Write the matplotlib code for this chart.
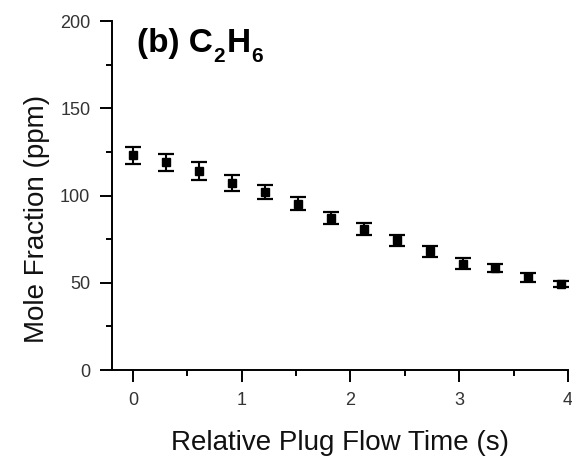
import matplotlib
matplotlib.use("Agg")
import matplotlib.pyplot as plt
from matplotlib.ticker import MultipleLocator

# C2H6 mole fraction along the plug flow reactor
plug_time = [0.0, 0.303, 0.606, 0.909, 1.212, 1.515, 1.818,
             2.121, 2.424, 2.727, 3.030, 3.333, 3.636, 3.939]
mole_fraction = [123.0, 119.0, 114.0, 107.0, 102.0, 95.2, 87.0,
                 80.8, 74.3, 68.0, 61.0, 58.4, 53.2, 49.3]
mole_err = [5.0, 5.0, 5.0, 4.5, 4.2, 3.7, 3.5,
            3.6, 3.0, 3.0, 3.0, 2.5, 2.5, 2.0]

plt.rcParams["font.family"] = ["Liberation Sans", "DejaVu Sans"]

fig = plt.figure(figsize=(5.72, 4.58), dpi=100)
ax = fig.add_axes([0.1958, 0.1921, 0.7972, 0.7620])

ax.errorbar(plug_time, mole_fraction, yerr=mole_err, fmt="s", color="black",
            markersize=6, elinewidth=1.5, capsize=5.6, capthick=1.6)

ax.set_xlim(-0.193, 4.0)
ax.set_ylim(0, 200)
ax.xaxis.set_major_locator(MultipleLocator(1))
ax.xaxis.set_minor_locator(MultipleLocator(0.5))
ax.yaxis.set_major_locator(MultipleLocator(50))
ax.yaxis.set_minor_locator(MultipleLocator(25))

for side in ["top", "right"]:
    ax.spines[side].set_visible(False)
for side in ["left", "bottom"]:
    ax.spines[side].set_linewidth(1.4)

ax.tick_params(which="major", direction="out", length=8.6, width=1.4,
               labelsize=13, labelcolor="#333333")
ax.tick_params(which="minor", direction="out", length=4.3, width=1.4)
ax.tick_params(axis="y", pad=7)
ax.tick_params(axis="x", pad=7.5)

ax.set_xlabel("Relative Plug Flow Time (s)", fontsize=20, color="#111111",
              va="baseline")
ax.xaxis.set_label_coords(0.5, -0.229)
ax.set_ylabel("Mole Fraction (ppm)", fontsize=20, color="#111111")
ax.yaxis.set_label_coords(-0.136, 0.434)

# panel label "(b) C2H6", subscripts dropped well below the baseline
base_y = 182
pieces = [("(b) C", 24, 0), ("2", 15, -7.2), ("H", 24, 0), ("6", 15, -7.2)]
prev = ax.text(0.035, base_y, pieces[0][0], fontsize=pieces[0][1],
               fontweight="bold", va="baseline", ha="left")
for s, size, drop in pieces[1:]:
    prev = ax.annotate(s, xy=(1, base_y), xycoords=(prev, "data"),
                       xytext=(0.8, drop), textcoords="offset points",
                       fontsize=size, fontweight="bold",
                       va="baseline", ha="left")

fig.savefig("out.png", dpi=100)
